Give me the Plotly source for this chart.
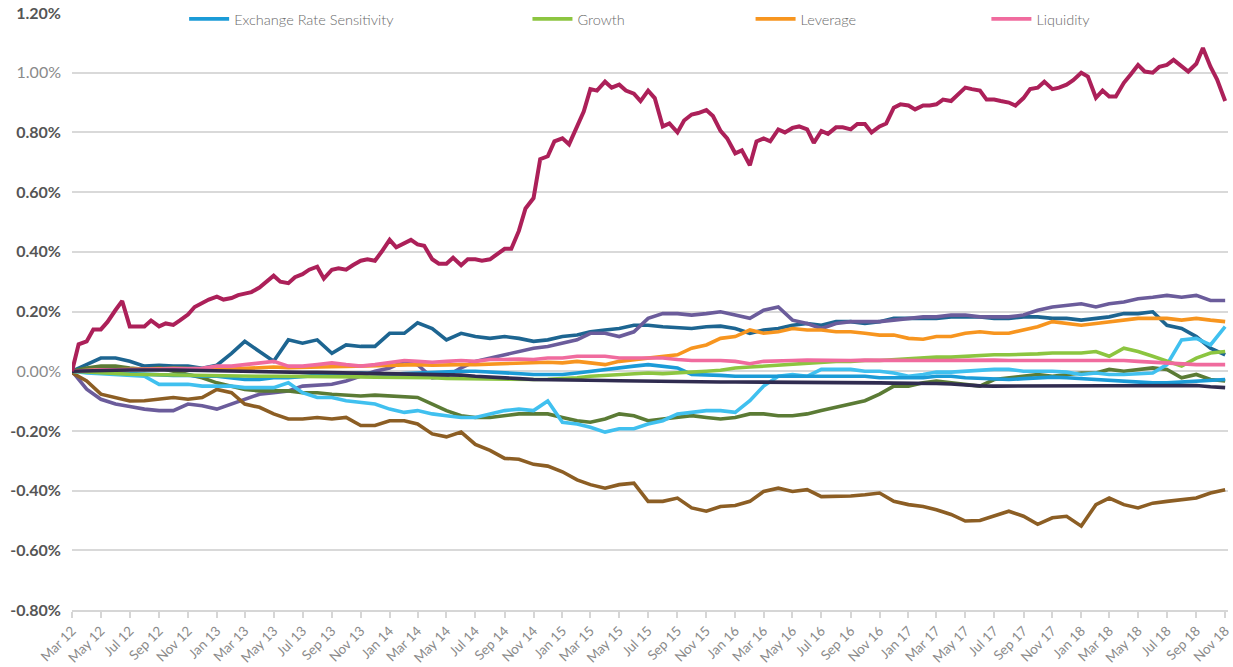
import pandas as pd
import plotly.graph_objects as go

# ---------------- data (values in %) ----------------
# monthly observations, Mar 2012 .. Nov 2018
dates = pd.date_range("2012-03-01", periods=81, freq="MS")
# semi-monthly observations for the most volatile series
dates_semi = pd.date_range("2012-03-01", periods=161, freq="SMS")

exchange_rate_sensitivity = [
    0.000, -0.003, -0.005, -0.006, -0.008, -0.011, -0.011, -0.014, -0.014, -0.017, -0.017,
    -0.022, -0.028, -0.028, -0.022, -0.022, -0.017, -0.014, -0.011, -0.008, -0.006,
    -0.008, -0.011, -0.008, -0.006, -0.003, 0.000, 0.000, 0.000, -0.003, -0.006,
    -0.008, -0.011, -0.011, -0.011, -0.006, 0.000, 0.006, 0.011, 0.017, 0.022,
    0.017, 0.011, -0.011, -0.011, -0.014, -0.017, -0.017, -0.017, -0.017, -0.017,
    -0.017, -0.017, -0.017, -0.017, -0.017, -0.022, -0.022, -0.022, -0.022, -0.017,
    -0.017, -0.022, -0.025, -0.028, -0.028, -0.025, -0.022, -0.020, -0.022, -0.025,
    -0.028, -0.033, -0.036, -0.039, -0.039, -0.039, -0.036, -0.033, -0.033, -0.028,
]
growth = [
    0.000, -0.003, -0.006, -0.008, -0.010, -0.011, -0.012, -0.014, -0.015, -0.016, -0.017,
    -0.017, -0.017, -0.017, -0.017, -0.017, -0.018, -0.018, -0.019, -0.019, -0.019,
    -0.020, -0.020, -0.021, -0.021, -0.022, -0.024, -0.025, -0.027, -0.028, -0.028,
    -0.028, -0.028, -0.027, -0.025, -0.022, -0.017, -0.014, -0.011, -0.008, -0.006,
    -0.008, -0.006, -0.003, 0.000, 0.003, 0.011, 0.014, 0.017, 0.020, 0.022,
    0.025, 0.030, 0.033, 0.033, 0.036, 0.036, 0.039, 0.041, 0.044, 0.047,
    0.047, 0.050, 0.052, 0.055, 0.055, 0.055, 0.058, 0.061, 0.061, 0.061,
    0.066, 0.050, 0.077, 0.066, 0.050, 0.033, 0.017, 0.044, 0.061, 0.066,
]
leverage = [
    0.000, 0.003, 0.005, 0.005, 0.005, 0.007, 0.008, 0.010, 0.010, 0.008, 0.005,
    0.008, 0.010, 0.012, 0.014, 0.012, 0.012, 0.014, 0.015, 0.016, 0.017,
    0.018, 0.020, 0.022, 0.022, 0.020, 0.022, 0.022, 0.022, 0.024, 0.024,
    0.025, 0.028, 0.030, 0.028, 0.033, 0.028, 0.022, 0.033, 0.039, 0.044,
    0.050, 0.055, 0.077, 0.088, 0.110, 0.116, 0.138, 0.127, 0.132, 0.143,
    0.138, 0.138, 0.132, 0.132, 0.127, 0.121, 0.121, 0.110, 0.107, 0.116,
    0.116, 0.127, 0.132, 0.127, 0.127, 0.138, 0.149, 0.166, 0.160, 0.154,
    0.160, 0.166, 0.171, 0.177, 0.177, 0.177, 0.171, 0.177, 0.171, 0.166,
]
liquidity = [
    0.000, 0.003, 0.005, 0.005, 0.006, 0.008, 0.008, 0.008, 0.008, 0.010, 0.017,
    0.017, 0.022, 0.028, 0.033, 0.017, 0.017, 0.022, 0.028, 0.022, 0.017,
    0.022, 0.028, 0.036, 0.033, 0.030, 0.033, 0.036, 0.033, 0.039, 0.039,
    0.041, 0.039, 0.044, 0.044, 0.050, 0.050, 0.050, 0.044, 0.044, 0.047,
    0.044, 0.039, 0.036, 0.036, 0.036, 0.033, 0.025, 0.033, 0.036, 0.036,
    0.037, 0.036, 0.035, 0.036, 0.037, 0.036, 0.036, 0.037, 0.036, 0.036,
    0.037, 0.036, 0.036, 0.037, 0.036, 0.036, 0.036, 0.037, 0.036, 0.036,
    0.036, 0.036, 0.036, 0.033, 0.030, 0.028, 0.025, 0.022, 0.022, 0.022,
]
momentum = [  # semi-monthly
    0.00, 0.09, 0.10, 0.14, 0.14, 0.165, 0.205, 0.235, 0.15, 0.15,
    0.15, 0.17, 0.15, 0.16, 0.155, 0.17, 0.19, 0.215, 0.23, 0.24,
    0.25, 0.24, 0.245, 0.255, 0.26, 0.265, 0.28, 0.30, 0.32, 0.30,
    0.295, 0.315, 0.325, 0.34, 0.35, 0.31, 0.34, 0.345, 0.34, 0.355,
    0.37, 0.375, 0.37, 0.40, 0.44, 0.415, 0.43, 0.44, 0.425, 0.42,
    0.375, 0.36, 0.36, 0.38, 0.355, 0.375, 0.375, 0.37, 0.375, 0.39,
    0.41, 0.41, 0.47, 0.545, 0.58, 0.71, 0.72, 0.77, 0.78, 0.76,
    0.82, 0.87, 0.945, 0.94, 0.97, 0.95, 0.96, 0.94, 0.93, 0.905,
    0.94, 0.915, 0.82, 0.83, 0.80, 0.84, 0.86, 0.865, 0.875, 0.855,
    0.805, 0.78, 0.73, 0.74, 0.69, 0.77, 0.78, 0.77, 0.81, 0.80,
    0.815, 0.82, 0.81, 0.765, 0.805, 0.795, 0.817, 0.817, 0.81, 0.828,
    0.828, 0.80, 0.82, 0.83, 0.883, 0.894, 0.89, 0.877, 0.89, 0.89,
    0.894, 0.91, 0.905, 0.927, 0.95, 0.945, 0.94, 0.91, 0.91, 0.905,
    0.90, 0.89, 0.915, 0.945, 0.95, 0.97, 0.945, 0.95, 0.96, 0.975,
    1.00, 0.987, 0.916, 0.94, 0.92, 0.92, 0.966, 0.993, 1.026, 1.004,
    1.00, 1.02, 1.026, 1.043, 1.02, 1.004, 1.03, 1.083, 1.02, 0.977,
    0.905,
]
size = [
    0.000, 0.022, 0.044, 0.044, 0.033, 0.017, 0.020, 0.017, 0.017, 0.010, 0.020,
    0.060, 0.100, 0.066, 0.033, 0.105, 0.094, 0.105, 0.060, 0.088, 0.083,
    0.083, 0.127, 0.127, 0.162, 0.143, 0.105, 0.127, 0.116, 0.110, 0.116,
    0.110, 0.100, 0.105, 0.116, 0.121, 0.132, 0.138, 0.143, 0.154, 0.154,
    0.149, 0.147, 0.143, 0.149, 0.151, 0.143, 0.127, 0.138, 0.143, 0.154,
    0.160, 0.154, 0.166, 0.166, 0.160, 0.166, 0.177, 0.177, 0.177, 0.177,
    0.182, 0.182, 0.182, 0.177, 0.177, 0.182, 0.182, 0.177, 0.177, 0.171,
    0.177, 0.182, 0.193, 0.193, 0.199, 0.154, 0.143, 0.116, 0.077, 0.055,
]
value = [
    0.000, -0.060, -0.094, -0.110, -0.118, -0.127, -0.132, -0.132, -0.110, -0.116, -0.127,
    -0.110, -0.094, -0.077, -0.072, -0.066, -0.050, -0.047, -0.044, -0.033, -0.017,
    0.000, 0.011, 0.033, 0.022, -0.022, -0.017, 0.011, 0.033, 0.044, 0.055,
    0.066, 0.077, 0.083, 0.094, 0.105, 0.127, 0.127, 0.116, 0.132, 0.177,
    0.193, 0.193, 0.188, 0.193, 0.199, 0.188, 0.177, 0.204, 0.215, 0.171,
    0.160, 0.143, 0.160, 0.166, 0.166, 0.166, 0.171, 0.177, 0.182, 0.182,
    0.188, 0.188, 0.182, 0.182, 0.182, 0.188, 0.204, 0.215, 0.221, 0.226,
    0.215, 0.226, 0.232, 0.243, 0.248, 0.254, 0.248, 0.254, 0.237, 0.237,
]
volatility = [
    0.000, -0.006, -0.008, -0.011, -0.014, -0.017, -0.044, -0.044, -0.044, -0.050, -0.050,
    -0.050, -0.055, -0.055, -0.055, -0.039, -0.072, -0.088, -0.088, -0.099, -0.105,
    -0.110, -0.127, -0.138, -0.132, -0.143, -0.149, -0.155, -0.155, -0.143, -0.132,
    -0.127, -0.132, -0.100, -0.171, -0.177, -0.188, -0.204, -0.193, -0.193, -0.177,
    -0.166, -0.143, -0.138, -0.132, -0.132, -0.138, -0.099, -0.050, -0.017, -0.011,
    -0.017, 0.006, 0.006, 0.006, 0.000, 0.000, -0.006, -0.017, -0.011, -0.003,
    -0.003, 0.000, 0.006, 0.006, 0.006, 0.000, 0.000, 0.000, -0.003, -0.011,
    -0.006, -0.011, -0.011, -0.008, -0.006, 0.022, 0.105, 0.110, 0.088, 0.149,
]
earnings_yield = [
    0.000, 0.011, 0.017, 0.017, 0.011, 0.006, 0.011, 0.000, -0.011, -0.022, -0.039,
    -0.050, -0.061, -0.066, -0.066, -0.066, -0.072, -0.072, -0.077, -0.080, -0.083,
    -0.080, -0.083, -0.088, -0.088, -0.110, -0.132, -0.149, -0.155, -0.155, -0.149,
    -0.143, -0.143, -0.143, -0.155, -0.166, -0.171, -0.160, -0.143, -0.149, -0.166,
    -0.160, -0.155, -0.149, -0.155, -0.160, -0.155, -0.143, -0.143, -0.149, -0.149,
    -0.143, -0.132, -0.121, -0.110, -0.099, -0.077, -0.050, -0.050, -0.039, -0.033,
    -0.039, -0.047, -0.050, -0.028, -0.022, -0.017, -0.011, -0.017, -0.011, -0.006,
    -0.006, 0.006, 0.000, 0.006, 0.011, 0.006, -0.022, -0.011, -0.028, -0.033,
]
dividend_yield = [
    -0.005, -0.033, -0.077, -0.088, -0.100, -0.099, -0.094, -0.088, -0.094, -0.088, -0.061,
    -0.072, -0.110, -0.121, -0.143, -0.160, -0.160, -0.155, -0.160, -0.155, -0.182,
    -0.182, -0.166, -0.166, -0.177, -0.210, -0.220, -0.204, -0.245, -0.265, -0.292,
    -0.295, -0.312, -0.318, -0.337, -0.364, -0.380, -0.392, -0.380, -0.375, -0.436,
    -0.436, -0.425, -0.458, -0.469, -0.453, -0.450, -0.436, -0.403, -0.392, -0.403,
    -0.397, -0.420, -0.420, -0.418, -0.414, -0.408, -0.436, -0.447, -0.453, -0.464,
    -0.480, -0.502, -0.500, -0.486, -0.469, -0.486, -0.513, -0.491, -0.486, -0.519,
    -0.447, -0.425, -0.447, -0.458, -0.442, -0.436, -0.430, -0.425, -0.408, -0.397,
]
beta = [
    0.000, 0.000, 0.002, 0.003, 0.004, 0.005, 0.005, 0.004, 0.003, 0.002, 0.000,
    -0.001, -0.002, -0.003, -0.003, -0.003, -0.004, -0.004, -0.005, -0.006, -0.006,
    -0.007, -0.008, -0.008, -0.008, -0.009, -0.011, -0.013, -0.017, -0.019, -0.022,
    -0.025, -0.028, -0.028, -0.028, -0.029, -0.030, -0.031, -0.032, -0.033, -0.033,
    -0.034, -0.034, -0.035, -0.035, -0.036, -0.036, -0.036, -0.036, -0.036, -0.036,
    -0.037, -0.037, -0.038, -0.038, -0.039, -0.039, -0.040, -0.040, -0.040, -0.041,
    -0.043, -0.047, -0.049, -0.050, -0.050, -0.050, -0.049, -0.049, -0.049, -0.049,
    -0.049, -0.049, -0.050, -0.050, -0.050, -0.050, -0.050, -0.048, -0.052, -0.055,
]

y_tick_values = [1.2, 1.0, 0.8, 0.6, 0.4, 0.2, 0.0, -0.2, -0.4, -0.6, -0.8]
y_tick_labels = ["1.20%", "1.00%", "0.80%", "0.60%", "0.40%", "0.20%", "0.00%",
                 "-0.20%", "-0.40%", "-0.60%", "-0.80%"]
y_tick_bold = [True, False, True, True, True, True, False, True, True, True, True]

x_tick_dates = pd.date_range("2012-03-01", "2018-11-01", freq="2MS")
x_tick_labels = [d.strftime("%b %y") for d in x_tick_dates]

# ---------------- figure ----------------
FONT = "Lato, 'Open Sans', sans-serif"

# (name, x dates, values, colour, legend id or None)
series = [
    ("Size", dates, size, "#1d6591", None),
    ("Value", dates, value, "#6b5c9b", None),
    ("Dividend Yield", dates, dividend_yield, "#8c5e24", None),
    ("Earnings Yield", dates, earnings_yield, "#5b7b35", None),
    ("Volatility", dates, volatility, "#40c0ef", None),
    ("Exchange Rate Sensitivity", dates, exchange_rate_sensitivity, "#1b9bd7", "legend"),
    ("Growth", dates, growth, "#8cc540", "legend2"),
    ("Leverage", dates, leverage, "#f7951f", "legend3"),
    ("Liquidity", dates, liquidity, "#f06b9e", "legend4"),
    ("Beta", dates, beta, "#302c50", None),
    ("Momentum", dates_semi, momentum, "#ac2059", None),
]

fig = go.Figure()
for name, xs, vals, col, leg in series:
    fig.add_trace(go.Scatter(
        x=xs, y=vals, mode="lines", name=name,
        line=dict(color=col, width=3.6 if name != "Momentum" else 4),
        showlegend=leg is not None,
        legend=leg if leg else "legend",
    ))

ticktext = [f"<b>{t}</b>" if b else f"<span style='color:#8a8a8a'>{t}</span>"
            for t, b in zip(y_tick_labels, y_tick_bold)]

legend_common = dict(orientation="h", yanchor="middle", y=0.99, xanchor="left",
                     bgcolor="rgba(0,0,0,0)", itemwidth=40,
                     font=dict(family=FONT, size=14.5, color="#6a6a6a", weight=300))
legend_x = {"legend": 0.097, "legend2": 0.394, "legend3": 0.587, "legend4": 0.791}

fig.update_layout(
    width=1233, height=667,
    margin=dict(l=72, r=1, t=13, b=50),
    plot_bgcolor="white", paper_bgcolor="white",
    font=dict(family=FONT),
    legend=dict(x=legend_x["legend"], **legend_common),
    legend2=dict(x=legend_x["legend2"], **legend_common),
    legend3=dict(x=legend_x["legend3"], **legend_common),
    legend4=dict(x=legend_x["legend4"], **legend_common),
    xaxis=dict(
        range=["2012-03-01", "2018-11-07"],
        tickvals=list(x_tick_dates), ticktext=x_tick_labels,
        tickangle=-45, tickfont=dict(family=FONT, size=13.5, color="#8a8a8a"),
        ticklabeloverflow="allow",
        showgrid=False, zeroline=False,
        showline=True, linecolor="#d6d6d6", linewidth=1.5,
        ticks="outside", ticklen=6, tickcolor="#d6d6d6", tickwidth=1.5,
    ),
    yaxis=dict(
        range=[-0.8, 1.2],
        tickvals=y_tick_values, ticktext=ticktext,
        tickfont=dict(family=FONT, size=16, color="#555555"),
        showgrid=True, gridcolor="#d9d9d9", gridwidth=1.5,
        zeroline=False, showline=False, ticks="", ticklabelstandoff=10,
    ),
)

fig.write_html(
    "out.html",
    config={"displayModeBar": False},
    post_script="document.body.style.margin='0';document.body.style.overflow='hidden';",
)
